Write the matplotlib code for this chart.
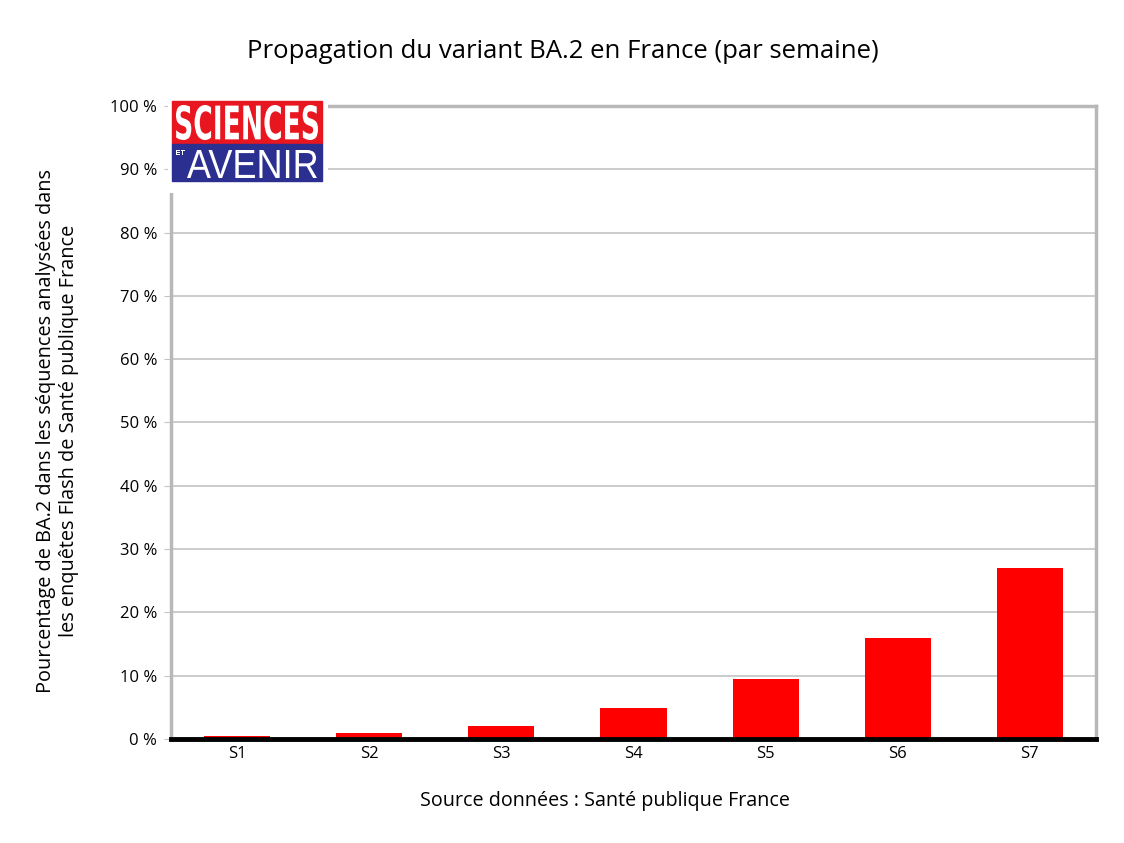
import matplotlib.pyplot as plt
from matplotlib.font_manager import FontProperties
from matplotlib.patches import PathPatch, Rectangle
from matplotlib.textpath import TextPath
from matplotlib.transforms import Affine2D

plt.rcParams["font.family"] = ["Open Sans", "DejaVu Sans"]

weeks = ["S1", "S2", "S3", "S4", "S5", "S6", "S7"]
share_ba2 = [0.5, 1.0, 2.1, 4.9, 9.5, 16.0, 27.0]
y_ticks = [0, 10, 20, 30, 40, 50, 60, 70, 80, 90, 100]

W, H = 1124, 843
fig = plt.figure(figsize=(W / 100, H / 100), dpi=100)
ax = fig.add_axes([171 / W, 1 - 739 / H, 925 / W, 633 / H])

x = range(len(weeks))
ax.bar(x, share_ba2, width=0.5, color="#ff0000", zorder=3)
ax.set_xlim(-0.5, len(weeks) - 0.5)
ax.set_ylim(0, 100)
ax.set_xticks(list(x))
ax.set_xticklabels(weeks, fontsize=12)
ax.set_yticks(y_ticks)
ax.set_yticklabels([f"{v} %" for v in y_ticks], fontsize=12)
ax.grid(axis="y", color="#c4c4c4", linewidth=1.2, zorder=0)
ax.tick_params(axis="y", length=5, color="#c4c4c4", pad=5)
ax.tick_params(axis="x", length=0, pad=5)

for side in ["left", "right", "top"]:
    ax.spines[side].set_color("#b8b8b8")
    ax.spines[side].set_linewidth(2.5)
ax.spines["bottom"].set_color("black")
ax.spines["bottom"].set_linewidth(3.5)
ax.spines["bottom"].set_zorder(4)

fig.text(563 / W, 1 - 52 / H, "Propagation du variant BA.2 en France (par semaine)",
         ha="center", va="center", fontsize=18.5)
fig.text(605 / W, 1 - 801 / H, "Source données : Santé publique France",
         ha="center", va="center", fontsize=14.2)
fig.text(58 / W, 1 - 431 / H,
         "Pourcentage de BA.2 dans les séquences analysées dans\nles enquêtes Flash de Santé publique France",
         ha="center", va="center", rotation=90, fontsize=14.3, linespacing=1.2)

# logo, in pixel units
logo = fig.add_axes([168 / W, 1 - 193 / H, 160 / W, 94 / H])
logo.set_xlim(168, 328)
logo.set_ylim(193, 99)
logo.axis("off")
logo.add_patch(Rectangle((168, 99), 160, 94, color="white"))
logo.add_patch(Rectangle((172, 101), 150, 43, color="#e8161f"))
logo.add_patch(Rectangle((172, 144), 150, 37, color="#2b2f8f"))


def fitted_text(s, x0, x1, y_top, y_bot, prop):
    path = TextPath((0, 0), s, size=10, prop=prop)
    bb = path.get_extents()
    tr = (Affine2D().translate(-bb.x0, -bb.y0)
          .scale((x1 - x0) / bb.width, -(y_bot - y_top) / bb.height)
          .translate(x0, y_bot))
    logo.add_patch(PathPatch(tr.transform_path(path), color="white", lw=0))


fitted_text("SCIENCES", 176, 318, 105, 140, FontProperties(family="DejaVu Sans", weight="bold"))
fitted_text("AVENIR", 187, 317, 150, 178, FontProperties(family="Liberation Sans"))
fitted_text("ET", 176, 185, 150, 155, FontProperties(family="Liberation Sans"))

fig.savefig("out.png", dpi=100)
